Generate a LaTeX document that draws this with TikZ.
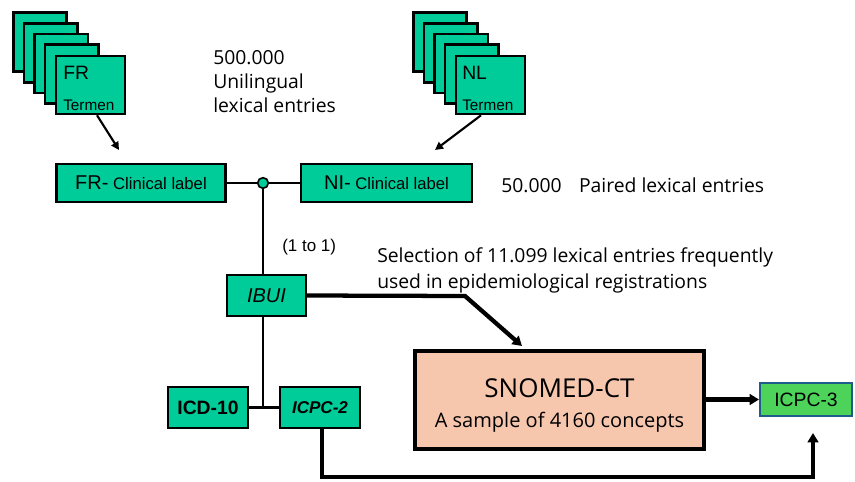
\documentclass[tikz,border=0pt]{standalone}
\usepackage{fontspec}
\setmainfont{Liberation Sans}
\newfontfamily\apt{Open Sans}
\usetikzlibrary{arrows.meta,calc}
\definecolor{tgreen}{RGB}{0,204,153}
\definecolor{peach}{RGB}{246,198,173}
\definecolor{lgreen}{RGB}{77,210,90}
\definecolor{dblue}{RGB}{31,92,138}
\begin{document}
\begin{tikzpicture}[x=0.75pt,y=-0.75pt,
  gbox/.style={draw=black,fill=tgreen,line width=1.9pt,inner sep=0pt,rectangle},
  page/.style={draw=black,fill=tgreen,line width=1.9pt},
  conn/.style={draw=black,line width=1.9pt},
  thin arrow/.style={draw=black,line width=1.6pt,-{Triangle[length=6pt,width=6pt]}},
  thick arrow/.style={draw=black,line width=3.2pt,-{Triangle[length=7pt,width=8pt]}},
  txt/.style={inner sep=0pt,text=black}]
\useasboundingbox (0,0) rectangle (855,481);
% FR stack
\foreach \i in {0,...,3} {\draw[page] ({13.3+10.6*\i},{12.7+10.6*\i}) rectangle ++(53.4,59);}
\node[gbox,minimum width=52pt,minimum height=43.5pt] (frpage) at (90.5,85) {};
\node[txt,anchor=west,font=\fontsize{14.5}{16}\selectfont] (frt) at (63,73) {FR};
\node[txt,anchor=west,font=\fontsize{11.5}{13}\selectfont] (frterm) at (63,105) {Termen};
% NL stack
\foreach \i in {0,...,3} {\draw[page] ({413.3+10.6*\i},{12.7+10.6*\i}) rectangle ++(53.4,59);}
\node[gbox,minimum width=52pt,minimum height=43.5pt] (nlpage) at (490.5,85) {};
\node[txt,anchor=west,font=\fontsize{14.5}{16}\selectfont] (nlt) at (462,73) {NL};
\node[txt,anchor=west,font=\fontsize{11.5}{13}\selectfont] (nlterm) at (462,105) {Termen};
% labels
\node[gbox,minimum width=127pt,minimum height=28.5pt] (frlabel) at (141,183)
  {\fontsize{15}{17}\selectfont FR-\fontsize{12.5}{15}\selectfont{} Clinical label\hspace{4pt}};
\node[gbox,minimum width=128pt,minimum height=28.5pt] (nllabel) at (386.5,183)
  {\fontsize{15}{17}\selectfont NI-\fontsize{12.5}{15}\selectfont{} Clinical label};
\node[circle,draw=black,fill=tgreen,line width=1.2pt,minimum size=8pt,inner sep=0pt] (junc) at (263,183) {};
\node[gbox,minimum width=59pt,minimum height=30.5pt,font=\fontsize{15}{17}\selectfont\itshape] (ibui) at (266.5,295.5) {IBUI};
\node[gbox,minimum width=60pt,minimum height=30.5pt,font=\fontsize{14.5}{17}\selectfont\bfseries] (icd) at (208,407.5) {ICD-10};
\node[gbox,minimum width=60pt,minimum height=30.5pt,font=\fontsize{12.8}{15}\selectfont\bfseries\itshape] (icpc2) at (320,407.5) {ICPC-2};
\node[draw=black,fill=peach,line width=3pt,minimum width=217pt,minimum height=74pt,inner sep=0pt] (snomed) at (559.5,400) {};
\node[txt,align=center,font=\apt\fontsize{19.5}{22.5}\selectfont] (snomedtxt) at (559.5,405)
  {SNOMED-CT\\\fontsize{15}{22.5}\selectfont A sample of 4160 concepts};
\node[draw=dblue,fill=lgreen,line width=1.5pt,minimum width=69pt,minimum height=25pt,inner sep=0pt,font=\fontsize{14.5}{17}\selectfont] (icpc3) at (806,399.5) {ICPC-3};
% texts
\node[txt,anchor=north west,align=left,font=\apt\fontsize{14.5}{18}\selectfont] (t500) at (213,50)
  {500.000\\Unilingual\\lexical entries};
\node[txt,anchor=west,font=\apt\fontsize{14.5}{16}\selectfont] (t50) at (501,185)
  {50.000\hspace{13pt}Paired lexical entries};
\node[txt,anchor=west,font=\fontsize{12.75}{15}\selectfont] (t11) at (282,247) {(1 to 1)};
\node[txt,anchor=north west,align=left,font=\apt\fontsize{14.5}{19.5}\selectfont] (tsel) at (377,247)
  {Selection of 11.099 lexical entries frequently\\used in epidemiological registrations};
% connectors
\coordinate (fa) at (119,150);
\coordinate (na) at (435,150);
\draw[thin arrow] (frpage.south -| 97,0) -- (fa);
\draw[thin arrow] (nlpage.south -| 481,0) -- (na);
\draw[conn] (frlabel.east) -- (junc.west);
\draw[conn] (junc.east) -- (nllabel.west);
\draw[conn] (junc.south) -- (junc |- ibui.north);
\draw[conn] (junc |- ibui.south) -- (junc |- icd.east);
\draw[conn] (icd.east) -- (icpc2.west);
\coordinate (bend1) at (465,296);
\coordinate (tip1) at (522,346);
\draw[thick arrow] (ibui.east) -- (bend1) -- (tip1);
\draw[thick arrow] (snomed.east |- icpc3.west) -- (icpc3.west);
\coordinate (b1) at (322,477);
\coordinate (b2) at (813,477);
\coordinate (tip2) at (813,433);
\draw[draw=black,line width=2.6pt,-{Triangle[length=7pt,width=8pt]}] (icpc2.south -| b1) -- (b1) -- (b2) -- (tip2);
\end{tikzpicture}
\end{document}
